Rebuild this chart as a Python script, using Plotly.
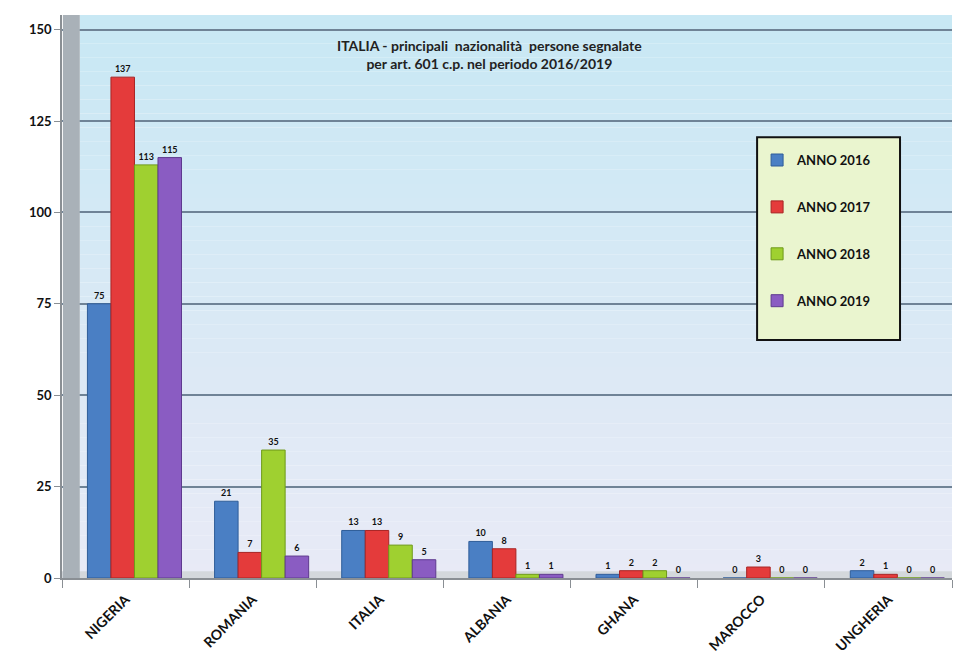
import plotly.graph_objects as go

# Nationalities reported under art. 601 c.p., 2016-2019
categories = ["NIGERIA", "ROMANIA", "ITALIA", "ALBANIA", "GHANA", "MAROCCO", "UNGHERIA"]
anno_2016 = [75, 21, 13, 10, 1, 0, 2]
anno_2017 = [137, 7, 13, 8, 2, 3, 1]
anno_2018 = [113, 35, 9, 1, 2, 0, 0]
anno_2019 = [115, 6, 5, 1, 0, 0, 0]
series_names = ["ANNO 2016", "ANNO 2017", "ANNO 2018", "ANNO 2019"]
y_ticks = [0, 25, 50, 75, 100, 125, 150]

series = [anno_2016, anno_2017, anno_2018, anno_2019]
colors = ["#4a7fc4", "#e43b3b", "#9fd030", "#8a5cc2"]
edges = ["#2f5d99", "#a82424", "#6f9a1a", "#5e3a8f"]

bar_w = 0.185
first_offset = -0.30

fig = go.Figure()
for i, (name, vals, col, edge) in enumerate(zip(series_names, series, colors, edges)):
    fig.add_trace(go.Bar(
        name=name, x=categories, y=vals,
        width=bar_w, offset=first_offset + i * bar_w,
        marker=dict(color=col, line=dict(color=edge, width=1)),
        text=[str(v) for v in vals], textposition="outside",
        textfont=dict(family="Lato", size=9, color="#111111", weight="bold"),
        cliponaxis=False, legendgroup=name,
    ))

# back wall gradient (light cyan at the top fading to pale lavender)
shapes = []
n = 40
top = (200, 232, 244)
bot = (232, 234, 246)
for i in range(n):
    t = i / (n - 1)
    c = tuple(int(round(top[k] + (bot[k] - top[k]) * t)) for k in range(3))
    shapes.append(dict(
        type="rect", xref="x domain", yref="y domain",
        x0=0.02, x1=1, y0=1 - (i + 1) / n, y1=1 - i / n,
        fillcolor="rgb(%d,%d,%d)" % c, line=dict(width=0), layer="below",
    ))
# floor strip
shapes.append(dict(type="rect", xref="x domain", yref="y domain",
                   x0=0, x1=1, y0=0, y1=0.012,
                   fillcolor="#d4d8dc", line=dict(width=0), layer="below"))
# grey side wall, drawn over the gridlines
shapes.append(dict(type="rect", xref="x domain", yref="y domain",
                   x0=0.001, x1=0.02, y0=0, y1=1,
                   fillcolor="#a9b1b8", line=dict(width=0), layer="above"))
# legend panel
shapes.append(dict(type="rect", xref="paper", yref="paper",
                   x0=0.781, x1=0.9416, y0=0.4227, y1=0.783,
                   fillcolor="#eaf5cf", line=dict(color="#111111", width=2),
                   layer="above"))

fig.update_layout(
    width=958, height=670,
    margin=dict(l=62, r=6, t=15, b=92),
    paper_bgcolor="white", plot_bgcolor="rgba(0,0,0,0)",
    barmode="overlay",
    shapes=shapes,
    font=dict(family="Lato", color="#111111"),
    legend=dict(
        x=0.781, y=0.769, xanchor="left", yanchor="top",
        bgcolor="rgba(0,0,0,0)", borderwidth=0,
        font=dict(family="Lato", size=13, color="#111111", weight="bold"),
        tracegroupgap=27, traceorder="grouped",
        itemwidth=30,
    ),
    annotations=[dict(
        text="<b>ITALIA - principali  nazionalità  persone segnalate<br>per art. 601 c.p. nel periodo 2016/2019</b>",
        xref="paper", yref="paper", x=0.48, y=0.965, xanchor="center", yanchor="top",
        showarrow=False, align="center",
        font=dict(family="Lato", size=14, color="#222222"),
    )],
)
fig.update_xaxes(
    range=[-0.5, 6.5],
    tickangle=-45, tickfont=dict(family="Lato", size=14, color="#111111", weight="bold"),
    showline=True, linecolor="#8a8f94", linewidth=1.5,
    ticks="outside", ticklen=8, tickcolor="#8a8f94", tickson="boundaries",
    ticklabelstandoff=6,
    showgrid=False,
)
fig.update_yaxes(
    range=[0, 154], tickvals=y_ticks,
    tickfont=dict(family="Lato", size=13, color="#111111", weight="bold"),
    showline=True, linecolor="#8a8f94", linewidth=1.5,
    ticks="outside", ticklen=6, tickcolor="#8a8f94",
    showgrid=True, gridcolor="#6f8396", gridwidth=1.5,
    zeroline=False,
)

fig.write_html("out.html")
